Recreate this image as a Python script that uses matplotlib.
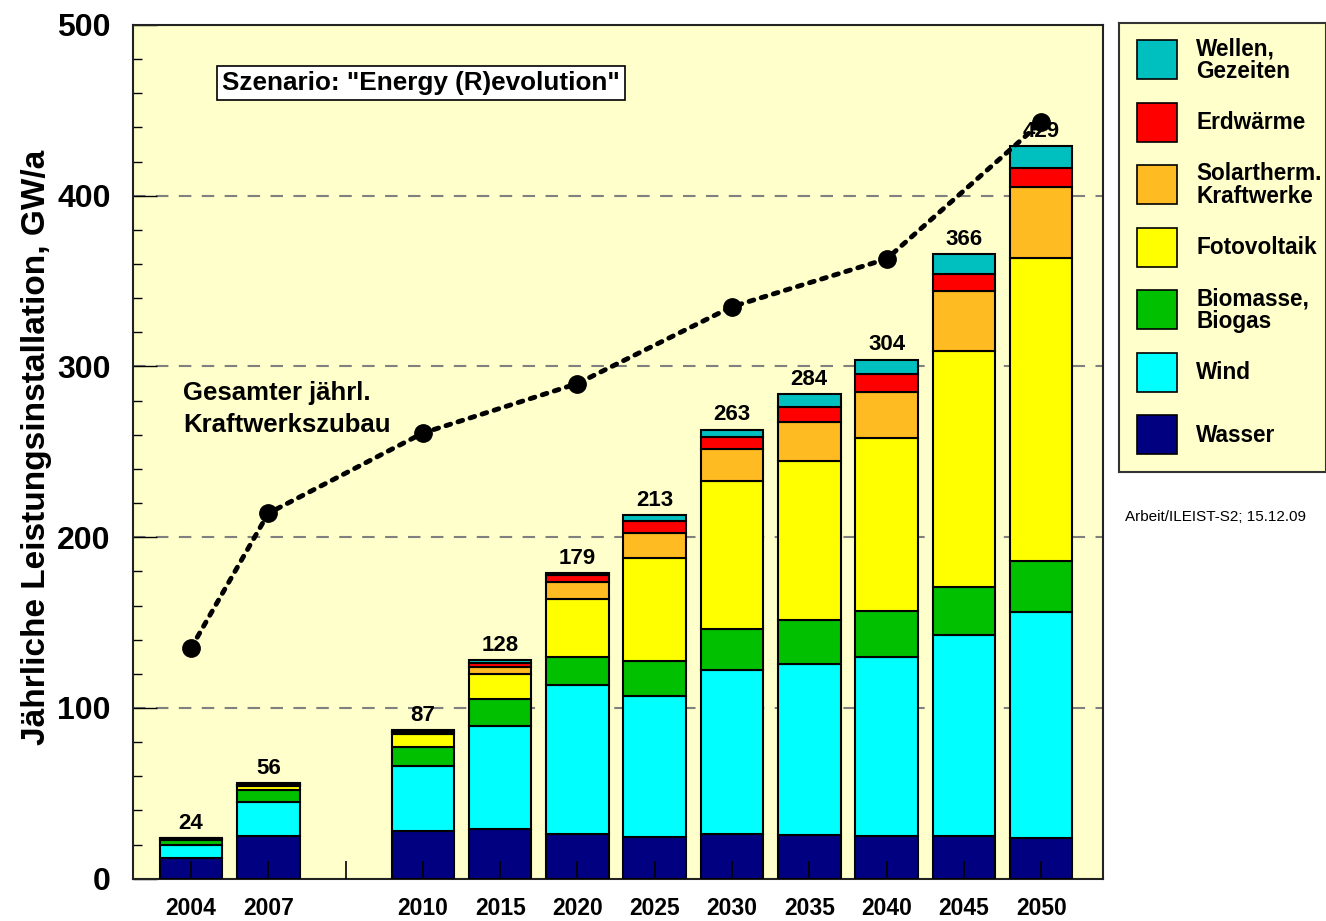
"""
Annual capacity additions per technology, scenario "Energy (R)evolution".

Stacked bars per year, total per bar on top, plus the dotted line of
total annual power plant additions.
"""

import numpy as np
import matplotlib.pyplot as plt
from matplotlib.patches import Rectangle


# Years on the x axis (a gap follows 2007)
YEARS = ["2004", "2007", "2010", "2015", "2020", "2025",
         "2030", "2035", "2040", "2045", "2050"]

# GW/a per technology, bottom to top of the stack
WASSER = [12.0, 25.2, 28.0, 29.2, 26.2, 24.7, 26.2, 25.6, 25.2, 24.8, 23.9]
WIND = [8.0, 20.0, 38.0, 60.1, 87.2, 82.4, 96.1, 100.2, 104.7, 117.9, 132.2]
BIOMASSE = [2.4, 6.7, 11.3, 16.0, 16.5, 20.3, 24.0, 25.7, 26.9, 28.3, 29.9]
FOTOVOLTAIK = [0.8, 2.5, 7.3, 14.3, 33.8, 60.3, 86.4, 92.9, 101.2, 138.0, 177.3]
SOLARTHERM = [0.3, 0.5, 1.4, 4.1, 10.0, 14.6, 18.8, 23.1, 27.0, 35.2, 41.8]
ERDWAERME = [0.3, 0.6, 0.6, 2.9, 4.1, 7.1, 7.1, 9.0, 10.5, 10.1, 11.0]
WELLEN = [0.2, 0.5, 0.4, 1.4, 1.2, 3.6, 4.4, 7.5, 8.5, 11.7, 12.9]

# Total annual power plant additions (all sources)
LINE_YEARS = ["2004", "2007", "2010", "2020", "2030", "2040", "2050"]
LINE_VALUES = [135, 214, 261, 290, 335, 363, 443]

SERIES = [
    ("Wasser", WASSER, "#000080"),
    ("Wind", WIND, "#00FFFF"),
    ("Biomasse,\nBiogas", BIOMASSE, "#00C000"),
    ("Fotovoltaik", FOTOVOLTAIK, "#FFFF00"),
    ("Solartherm.\nKraftwerke", SOLARTHERM, "#FFBB22"),
    ("Erdwärme", ERDWAERME, "#FF0000"),
    ("Wellen,\nGezeiten", WELLEN, "#00BFBF"),
]

BG = "#FFFFCC"
FONT = "Liberation Sans"


def slot_positions():
    """Bar positions; one empty slot is left after 2007."""
    idx = np.arange(len(YEARS))
    return idx + (idx >= 2)


def draw_bars(ax):
    x = slot_positions()
    bottom = np.zeros(len(YEARS))
    for label, values, color in SERIES:
        values = np.array(values)
        ax.bar(x, values, width=0.81, bottom=bottom, color=color,
               edgecolor="black", linewidth=1.5, zorder=3)
        bottom += values

    # total on top of each bar
    for xi, total in zip(x, bottom):
        ax.annotate(f"{total:.0f}", (xi, total), xytext=(0, 3),
                    textcoords="offset points", ha="center", va="bottom",
                    fontsize=16, fontweight="bold", family=FONT, zorder=5)
    return x


def draw_total_line(ax, x):
    pos = dict(zip(YEARS, x))
    lx = [pos[y] for y in LINE_YEARS]
    ax.plot(lx, LINE_VALUES, color="black", linestyle=(0, (1.0, 1.6)),
            linewidth=3.5, dash_capstyle="round", marker="o",
            markersize=12.5, zorder=6)


def draw_legend(fig):
    lax = fig.add_axes([1119 / 1326, 1 - 472 / 921, 207 / 1326, 449 / 921])
    lax.set_facecolor(BG)
    lax.set_xlim(0, 207)
    lax.set_ylim(449, 0)
    lax.set_xticks([])
    lax.set_yticks([])
    for sp in lax.spines.values():
        sp.set_color("#333333")
        sp.set_linewidth(1.5)

    for i, (label, _, color) in enumerate(reversed(SERIES)):
        y = 17.5 + 62.5 * i
        lax.add_patch(Rectangle((17.5, y), 40, 39, facecolor=color,
                                edgecolor="black", linewidth=1.2))
        lax.text(77, y + 19.5, label, ha="left", va="center",
                 fontsize=16.3, fontweight="bold", family=FONT,
                 linespacing=0.97)


def main():
    plt.rcParams["font.family"] = FONT
    fig = plt.figure(figsize=(13.26, 9.21), dpi=100)
    ax = fig.add_axes([133 / 1326, 42.3 / 921, 970 / 1326, 853.7 / 921])
    ax.set_facecolor(BG)

    x = draw_bars(ax)
    draw_total_line(ax, x)

    ax.set_xlim(-0.75, 11.8)
    ax.set_ylim(0, 500)

    # x ticks: one per slot, labels only under the bars
    ax.set_xticks(np.arange(12))
    labels = [""] * 12
    for xi, year in zip(x, YEARS):
        labels[xi] = year
    ax.set_xticklabels(labels, fontsize=16.5, fontweight="bold")
    ax.tick_params(axis="x", direction="in", length=13, width=1.2,
                   pad=13, top=False)
    # tick marks sit on top of the bars
    ax.xaxis.set_zorder(4)

    ax.set_yticks(np.arange(0, 501, 100))
    ax.set_yticks(np.arange(0, 501, 20), minor=True)
    ax.set_yticklabels([str(v) for v in range(0, 501, 100)],
                       fontsize=23, fontweight="bold")
    ax.tick_params(axis="y", which="major", direction="in", length=17,
                   width=1.0, pad=16)
    ax.tick_params(axis="y", which="minor", direction="in", length=6.5,
                   width=1.0)
    ax.tick_params(axis="x", which="minor", bottom=False)

    for v in range(100, 500, 100):
        ax.axhline(v, color="#808080", linewidth=1.5,
                   linestyle=(0, (6, 5)), zorder=1)

    for sp in ax.spines.values():
        sp.set_linewidth(1.5)
        sp.set_color("#222222")

    ax.set_ylabel("Jährliche Leistungsinstallation, GW/a", fontsize=24,
                  fontweight="bold")
    ax.yaxis.set_label_coords(-0.084, 0.505)

    ax.text(0.092, 0.932, 'Szenario: "Energy (R)evolution"',
            transform=ax.transAxes, fontsize=18.8, fontweight="bold",
            ha="left", va="center", zorder=7,
            bbox=dict(boxstyle="square,pad=0.2", facecolor="white",
                      edgecolor="black", linewidth=1.2))

    ax.text(0.052, 0.550, "Gesamter jährl.\nKraftwerkszubau",
            transform=ax.transAxes, fontsize=18.5, fontweight="bold",
            ha="left", va="center", linespacing=1.45, zorder=7)

    draw_legend(fig)

    fig.text(1125 / 1326, 1 - 517 / 921, "Arbeit/ILEIST-S2; 15.12.09",
             fontsize=11, ha="left", va="center")

    fig.savefig("out.png", dpi=100, facecolor="white")
    plt.close(fig)


if __name__ == "__main__":
    main()
